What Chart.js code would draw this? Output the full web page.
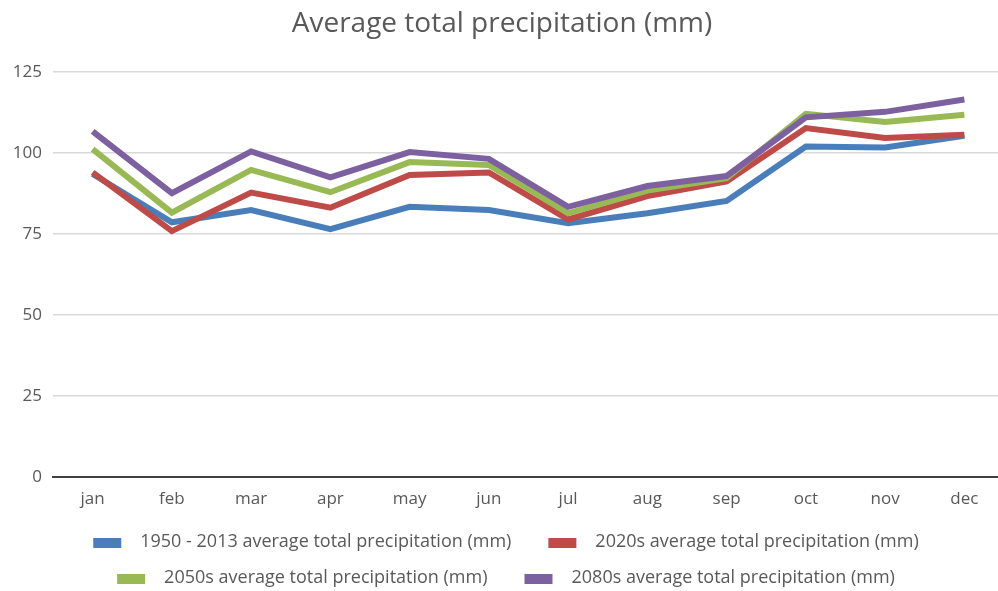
<!DOCTYPE html>
<html>
<head>
<meta charset="utf-8">
<script src="https://cdn.jsdelivr.net/npm/chart.js@4"></script>
<style>
  html, body { margin: 0; padding: 0; background: #ffffff; overflow: hidden; }
  #wrap { position: relative; width: 1010px; height: 591px; }
</style>
</head>
<body>
<div id="wrap"><canvas id="chart"></canvas></div>
<script>
// Monthly average total precipitation (mm), historic and projected
const months = ['jan', 'feb', 'mar', 'apr', 'may', 'jun', 'jul', 'aug', 'sep', 'oct', 'nov', 'dec'];
const seriesNames = [
  '1950 - 2013 average total precipitation (mm)',
  '2020s average total precipitation (mm)',
  '2050s average total precipitation (mm)',
  '2080s average total precipitation (mm)'
];
const historic1950to2013 = [93.5, 78.6, 82.4, 76.5, 83.4, 82.4, 78.3, 81.4, 85.2, 102.0, 101.7, 105.3];
const projected2020s = [94.0, 75.9, 87.8, 83.1, 93.2, 94.0, 79.5, 86.7, 91.2, 107.7, 104.6, 105.6];
const projected2050s = [101.2, 81.6, 94.8, 87.9, 97.2, 96.3, 81.4, 88.4, 92.2, 112.1, 109.6, 111.8];
const projected2080s = [106.7, 87.6, 100.5, 92.5, 100.3, 98.2, 83.4, 89.8, 92.9, 111.0, 112.7, 116.5];
const yTicks = [0, 25, 50, 75, 100, 125];

const seriesValues = [historic1950to2013, projected2020s, projected2050s, projected2080s];
const seriesColors = ['#4a7ebb', '#be4b48', '#98b954', '#7d60a0'];

const FONT = "'Open Sans', 'DejaVu Sans', sans-serif";
const TEXT = '#595959';

const datasets = seriesValues.map((vals, i) => ({
  label: seriesNames[i],
  data: vals,
  borderColor: seriesColors[i],
  backgroundColor: seriesColors[i],
  borderWidth: 6,
  pointRadius: 0,
  pointHoverRadius: 0,
  tension: 0,
  fill: false,
  // later series are painted over earlier ones
  order: seriesValues.length - 1 - i
}));

// Two-row legend under the plot: wide swatch, roomy gaps, rows centred
const legendRows = [[0, 1], [2, 3]];
const bottomLegend = {
  id: 'bottomLegend',
  afterDraw(chart) {
    const ctx = chart.ctx;
    const swatchW = 28, swatchH = 10, gapText = 19, gapItem = 37, rowStep = 36;
    const firstRowY = 542;
    const cx = 506;
    ctx.save();
    ctx.font = "18px " + FONT;
    ctx.textBaseline = 'middle';
    ctx.textAlign = 'left';
    legendRows.forEach((row, r) => {
      const y = firstRowY + r * rowStep;
      const widths = row.map(i => swatchW + gapText + ctx.measureText(chart.data.datasets[i].label).width);
      const total = widths.reduce((a, b) => a + b, 0) + gapItem * (row.length - 1);
      let x = cx - total / 2;
      row.forEach((i, k) => {
        const ds = chart.data.datasets[i];
        ctx.fillStyle = ds.borderColor;
        ctx.fillRect(x, y + 1 - swatchH / 2, swatchW, swatchH);
        ctx.fillStyle = TEXT;
        ctx.fillText(ds.label, x + swatchW + gapText, y);
        x += widths[k] + gapItem;
      });
    });
    ctx.restore();
  }
};

new Chart(document.getElementById('chart'), {
  type: 'line',
  data: { labels: months, datasets },
  plugins: [bottomLegend],
  options: {
    responsive: true,
    maintainAspectRatio: false,
    animation: false,
    layout: { padding: { left: 0, right: 6, top: 0, bottom: 69.6 } },
    plugins: {
      title: {
        display: true,
        text: 'Average total precipitation (mm)',
        color: TEXT,
        font: { family: FONT, size: 28, weight: 'normal' },
        padding: { top: 7, bottom: 31.4 }
      },
      legend: { display: false },
      tooltip: { enabled: false }
    },
    scales: {
      x: {
        offset: true,
        grid: { display: false, drawTicks: false },
        border: { display: true, color: '#404040', width: 2 },
        ticks: {
          color: TEXT,
          font: { family: FONT, size: 17 },
          padding: 12,
          maxRotation: 0
        }
      },
      y: {
        min: 0,
        max: 125,
        afterBuildTicks: (scale) => { scale.ticks = yTicks.map(v => ({ value: v })); },
        grid: {
          color: (ctx) => ctx.tick && ctx.tick.value === 0 ? 'rgba(0,0,0,0)' : '#d9d9d9',
          lineWidth: 1.5,
          drawTicks: false
        },
        border: { display: false },
        ticks: {
          color: TEXT,
          font: { family: FONT, size: 17 },
          padding: 11
        },
        afterFit: (scale) => { scale.width = 53; }
      }
    }
  }
});
</script>
</body>
</html>
